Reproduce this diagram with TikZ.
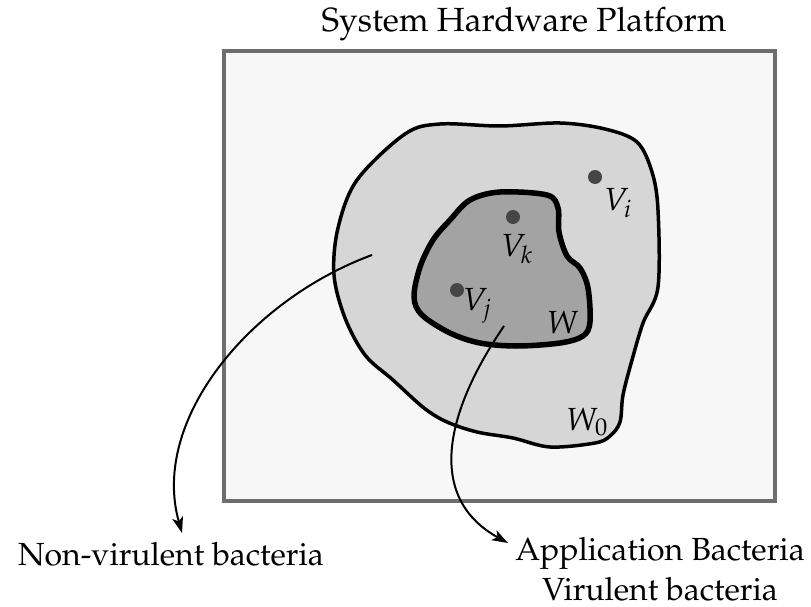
\documentclass[tikz,border=0pt]{standalone}
\usepackage[T1]{fontenc}
\usepackage{mathpazo}
\usetikzlibrary{arrows.meta}
\definecolor{platfill}{HTML}{F7F7F7}
\definecolor{platline}{HTML}{6E6E6E}
\definecolor{wzfill}{HTML}{D6D6D6}
\definecolor{wfill}{HTML}{A3A3A3}
\definecolor{dotcol}{HTML}{464646}
\tikzset{
  lbl/.style={font=\fontsize{32}{40}\selectfont, inner sep=0pt},
  ttl/.style={font=\fontsize{33.5}{40}\selectfont, inner sep=0pt},
  mlbl/.style={font=\fontsize{32}{38}\selectfont, inner sep=0pt},
  vdot/.style={circle, fill=dotcol, minimum size=14pt, inner sep=0pt},
  conn/.style={line width=2pt, -{Stealth[length=16pt,width=11pt,inset=4pt]}},
}
\begin{document}
\begin{tikzpicture}[x=1pt,y=-1pt]
\useasboundingbox (0,0) rectangle (811,607);
\clip (0,0) rectangle (811,607);
\fill[white] (0,0) rectangle (811,607);
% platform
\draw[platline, fill=platfill, line width=4pt] (224,51) rectangle (775,501);
\node[ttl] (plat) at (524,24) {System Hardware Platform};
% outer region W0
\draw[line width=3.5pt, fill=wzfill] plot[smooth cycle, tension=0.55] coordinates {
 (405,134) (440,124) (500,126) (560,123) (605,129) (637,142) (652,172) (658,210)
 (658,287) (643,323) (632,360) (623,395) (620,422) (610,436) (595,443) (550,447)
 (513,438) (477,432) (447,422) (424,408) (393,380) (365,355) (345,318) (334,275)
 (338,228) (357,180)};
% inner region W
\draw[line width=5.5pt, fill=wfill] plot[smooth cycle, tension=0.55] coordinates {
 (470,200) (500,192) (547,195) (558,208) (559,232) (567,256) (580,268) (588,288)
 (590,322) (583,336) (560,343) (517,346) (480,343) (450,333) (422,315) (414,297)
 (420,267) (433,240) (450,220)};
% points
\node[vdot] (vi) at (595,177) {};
\node[vdot] (vk) at (513,217) {};
\node[vdot] (vj) at (457,290) {};
\node[mlbl] (lvi) at (618,203) {$V_i$};
\node[mlbl] (lvk) at (517,249) {$V_k$};
\node[mlbl] (lvj) at (477,306) {$V_j$};
\node[mlbl] (lw) at (563,322) {$W$};
\node[mlbl] (lw0) at (587,422) {$W_0$};
% bottom labels
\node[lbl] (nv) at (171,554) {Non-virulent bacteria};
\node[lbl, align=center] (ab) at (660,569) {Application Bacteria\\Virulent bacteria};
% connectors
\coordinate (s1) at (372,255);
\coordinate (t1) at (182,533);
\coordinate (s2) at (504,326);
\coordinate (t2) at (508,543);
\draw[conn] (s1) .. controls (250,300) and (150,420) .. (t1);
\draw[conn] (s2) .. controls (440,420) and (430,500) .. (t2);
\end{tikzpicture}
\end{document}
